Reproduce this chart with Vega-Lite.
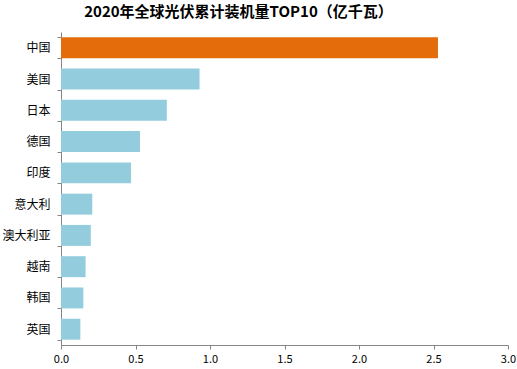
{
  "$schema": "https://vega.github.io/schema/vega-lite/v6.json",
  "width": 447,
  "height": 313,
  "autosize": "none",
  "padding": {"left": 61, "top": 32, "right": 10, "bottom": 24},
  "background": "white",
  "title": {
    "text": "2020年全球光伏累计装机量TOP10（亿千瓦）",
    "font": "Noto Sans CJK SC",
    "fontSize": 15,
    "fontWeight": "bold",
    "color": "#000000",
    "anchor": "middle",
    "dx": -46,
    "offset": 6
  },
  "data": {
    "values": [
      {"country": "中国", "value": 2.53, "highlight": "yes"},
      {"country": "美国", "value": 0.93, "highlight": "no"},
      {"country": "日本", "value": 0.71, "highlight": "no"},
      {"country": "德国", "value": 0.53, "highlight": "no"},
      {"country": "印度", "value": 0.47, "highlight": "no"},
      {"country": "意大利", "value": 0.21, "highlight": "no"},
      {"country": "澳大利亚", "value": 0.20, "highlight": "no"},
      {"country": "越南", "value": 0.165, "highlight": "no"},
      {"country": "韩国", "value": 0.15, "highlight": "no"},
      {"country": "英国", "value": 0.13, "highlight": "no"}
    ]
  },
  "mark": {"type": "bar"},
  "encoding": {
    "y": {
      "field": "country",
      "type": "nominal",
      "sort": ["中国", "美国", "日本", "德国", "印度", "意大利", "澳大利亚", "越南", "韩国", "英国"],
      "scale": {"paddingInner": 0.33, "paddingOuter": 0.17},
      "axis": {
        "title": null,
        "grid": false,
        "domainColor": "#868686",
        "tickColor": "#868686",
        "tickSize": 4,
        "tickBand": "extent",
        "labelFont": "Noto Sans CJK SC",
        "labelFontSize": 12,
        "labelColor": "#000000",
        "labelPadding": 7
      }
    },
    "x": {
      "field": "value",
      "type": "quantitative",
      "scale": {"domain": [0, 3], "nice": false},
      "axis": {
        "title": null,
        "grid": false,
        "values": [0, 0.5, 1, 1.5, 2, 2.5, 3],
        "format": ".1f",
        "domainColor": "#868686",
        "tickColor": "#868686",
        "tickSize": 4,
        "labelFont": "Noto Sans CJK SC",
        "labelFontSize": 11,
        "labelColor": "#000000",
        "labelPadding": 4,
        "labelFlush": false
      }
    },
    "color": {
      "field": "highlight",
      "type": "nominal",
      "scale": {"domain": ["yes", "no"], "range": ["#E46C0A", "#93CDDD"]},
      "legend": null
    }
  },
  "config": {"view": {"stroke": null}}
}
